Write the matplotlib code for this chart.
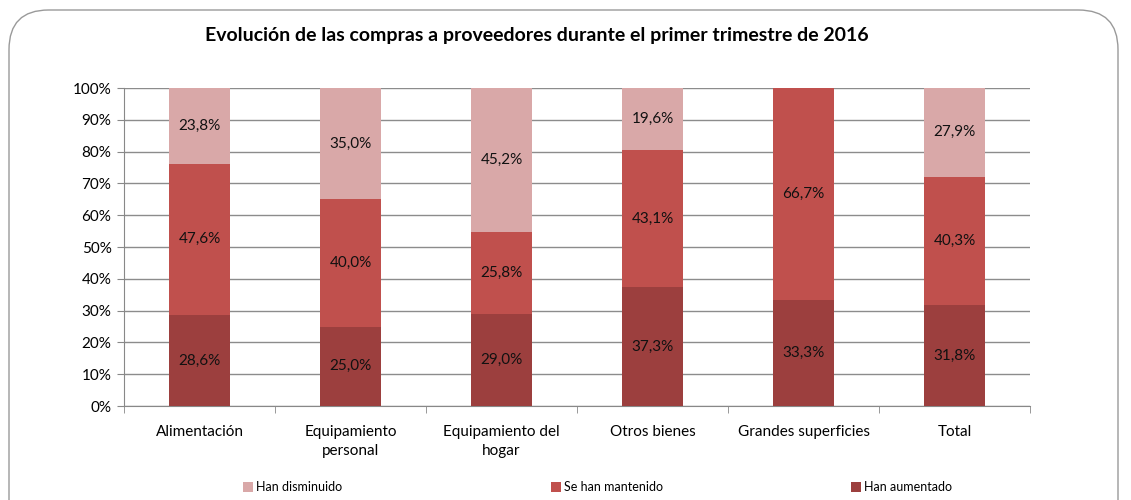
import matplotlib
matplotlib.use('Agg')
import matplotlib.pyplot as plt
import numpy as np
from matplotlib.patches import FancyBboxPatch

plt.rcParams['font.family'] = ['Lato', 'DejaVu Sans']

categories = ['Alimentación', 'Equipamiento\npersonal', 'Equipamiento del\nhogar',
              'Otros bienes', 'Grandes superficies', 'Total']
aumentado = [28.6, 25.0, 29.0, 37.3, 33.3, 31.8]
mantenido = [47.6, 40.0, 25.8, 43.1, 66.7, 40.3]
disminuido = [23.8, 35.0, 45.2, 19.6, 0.0, 27.9]

col_dis = '#D9A8A8'
col_man = '#C0504D'
col_aum = '#9C3F3E'

fig = plt.figure(figsize=(11.31, 5.0), dpi=100)
ax = fig.add_axes([124/1131, 1-406/500, 906/1131, 318/500])

# marco redondeado
frame = FancyBboxPatch((9/1131, -0.1), 1109/1131, 1.0 - 10/500 + 0.1,
                       boxstyle='round,pad=0,rounding_size=0.035',
                       transform=fig.transFigure, fill=False,
                       edgecolor='#9a9a9a', linewidth=1.0, mutation_aspect=1131/500)
fig.patches.append(frame)

x = np.arange(len(categories))
w = 0.4
aum = np.array(aumentado)
man = np.array(mantenido)
dis = np.array(disminuido)

b1 = ax.bar(x, aum, w, color=col_aum, label='Han aumentado', zorder=3)
b2 = ax.bar(x, man, w, bottom=aum, color=col_man, label='Se han mantenido', zorder=3)
b3 = ax.bar(x, dis, w, bottom=aum + man, color=col_dis, label='Han disminuido', zorder=3)

def fmt(v):
    return ('%.1f%%' % v).replace('.', ',')

for i in range(len(categories)):
    for bottom, val in [(0, aum[i]), (aum[i], man[i]), (aum[i] + man[i], dis[i])]:
        if val > 0:
            ax.text(x[i], bottom + val / 2, fmt(val), ha='center', va='center',
                    fontsize=11, color='#111111', zorder=4)

ax.set_xlim(-0.5, len(categories) - 0.5)
ax.set_ylim(0, 100)
ax.set_yticks(np.arange(0, 101, 10))
ax.set_yticklabels(['%d%%' % v for v in range(0, 101, 10)], fontsize=11)
ax.set_xticks(x)
ax.set_xticklabels(categories, fontsize=11, linespacing=1.4)
ax.set_xticks(np.arange(-0.5, len(categories)), minor=True)
ax.tick_params(axis='x', which='major', length=0, pad=14)
ax.tick_params(axis='x', which='minor', length=5, color='#888888', direction='out')
ax.tick_params(axis='y', length=5, color='#888888', direction='out', pad=4)

ax.grid(axis='y', color='#8c8c8c', linewidth=1.0, zorder=0)
ax.set_axisbelow(True)
for s in ['top', 'right']:
    ax.spines[s].set_visible(False)
for s in ['left', 'bottom']:
    ax.spines[s].set_color('#888888')

fig.text(537/1131, 1-35/500, 'Evolución de las compras a proveedores durante el primer trimestre de 2016',
         ha='center', va='center', fontsize=14, fontweight='bold')

# leyenda: una entrada por posicion
legend_items = [(b3, 'Han disminuido', 243), (b2, 'Se han mantenido', 551), (b1, 'Han aumentado', 851)]
for h, lab, px in legend_items:
    fig.legend([h], [lab], loc='center left', bbox_to_anchor=(px/1131, 1-487/500),
               frameon=False, fontsize=9, handlelength=0.8, handleheight=0.9,
               handletextpad=0.2, borderaxespad=0, borderpad=0)

fig.savefig('out.png', dpi=100)
